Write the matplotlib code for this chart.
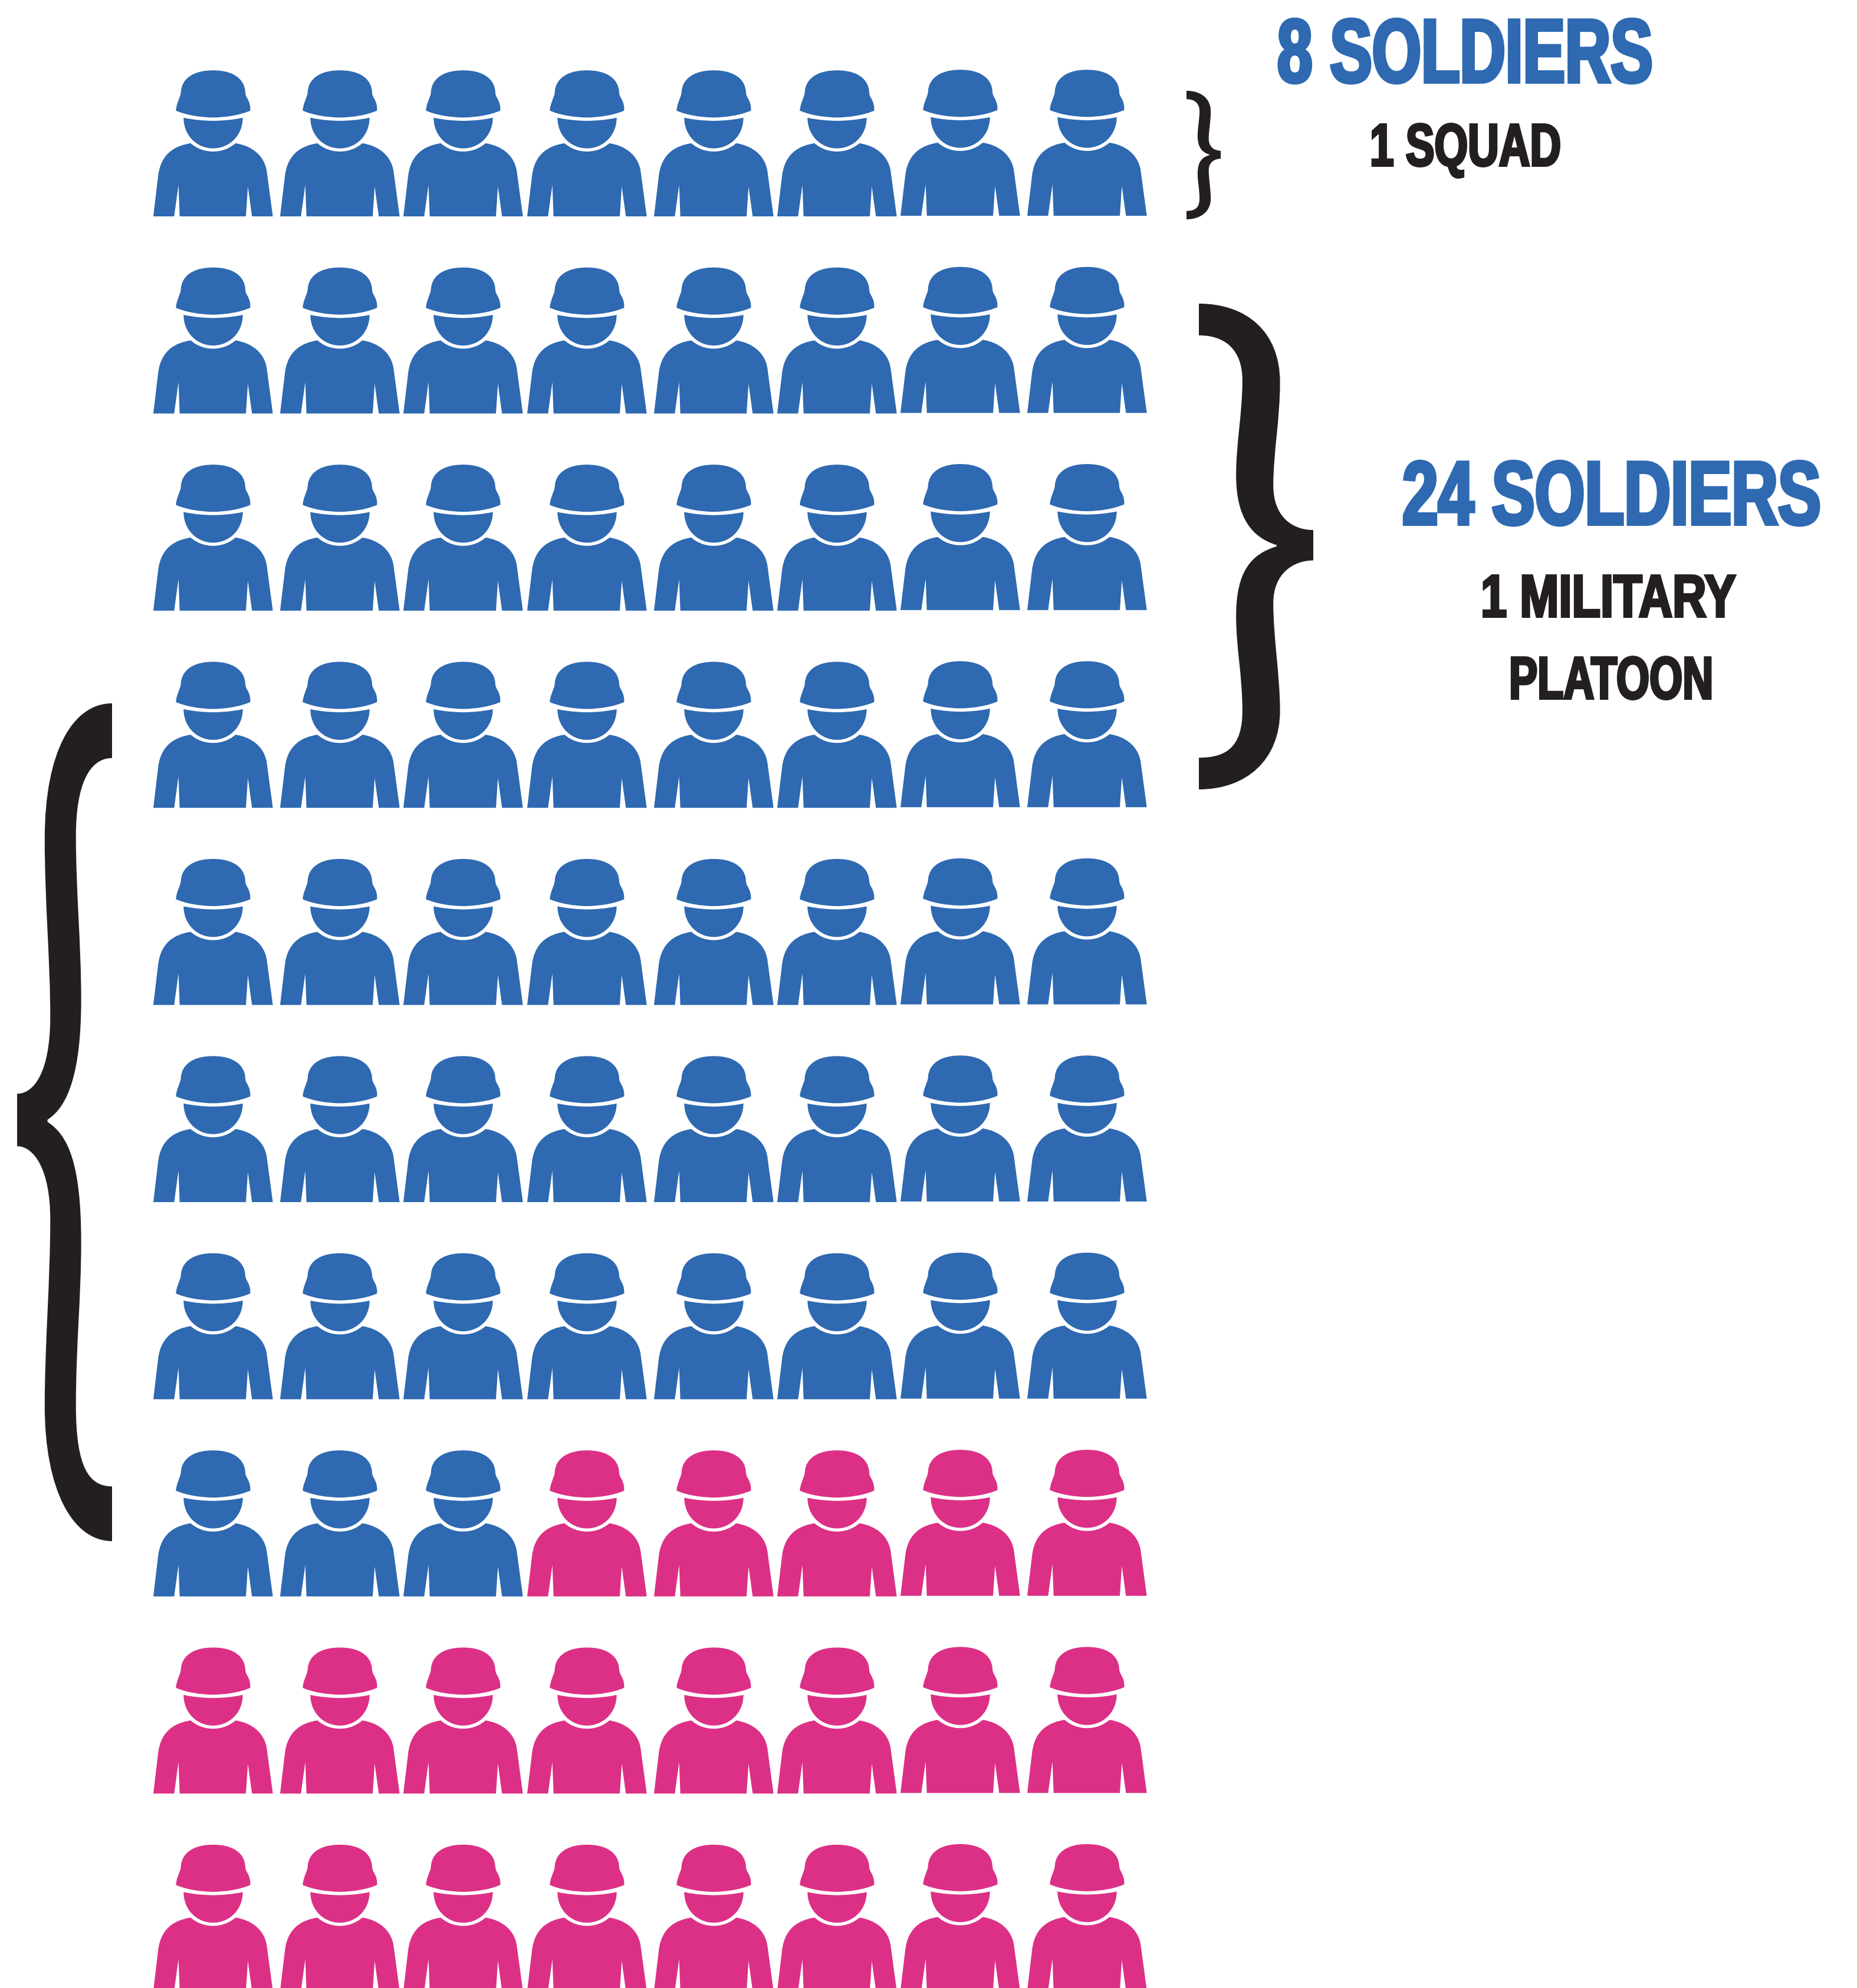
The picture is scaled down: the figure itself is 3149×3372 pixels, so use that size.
import numpy as np
import matplotlib
matplotlib.use('Agg')
import matplotlib.pyplot as plt
import matplotlib.patheffects as pe
from matplotlib.patches import PathPatch
from matplotlib.path import Path
from matplotlib.transforms import Affine2D

# chart values
soldiersPerRow = 8
rowCount = 10
groupCounts = [59, 21]
groupNames = ['blue', 'pink']
labelTexts = ['8 SOLDIERS', '1 SQUAD', '24 SOLDIERS', '1 MILITARY', 'PLATOON']
labelGroups = ['blue', 'black', 'blue', 'black', 'black']

# colours and layout, in reference pixels
colors = {'blue': '#2E69B1', 'pink': '#DC3086', 'black': '#231F20'}
W, H = 3149, 3372
columnLefts = [260, 475, 684, 894, 1109, 1318, 1527, 1742]
columnLift = [0, 0, 0, 0, 0, 0, 1, 1]
firstRowBottom = 367
rowPitch = 334.4
# left, right, baseline, cap height of each label
labelBoxes = [
	(2163, 2806, 142, 117),
	(2321, 2649, 283, 78),
	(2375, 3091, 892, 117),
	(2509, 2945, 1048, 78),
	(2557, 2907, 1187, 78),
]
# flat end x, tip x, top y, bottom y
braceBoxes = [
	(2012, 2070, 154, 372),
	(2033, 2227, 515, 1339),
	(190, 29, 1193, 2614),
]


def buildPath(start, segments):
	verts = [start]
	codes = [Path.MOVETO]
	for seg in segments:
		verts.extend(seg)
		codes.extend([Path.LINETO] if len(seg) == 1 else [Path.CURVE4] * 3)
	verts.append(start)
	codes.append(Path.CLOSEPOLY)
	return np.array(verts, dtype=float), codes


def soldierPath():
	# traced from a zoomed icon, 3x pixels, origin moved to the feet below
	helmet = buildPath((175, 262), [
		[(176, 235), (190, 205), (197, 185)],
		[(200, 175), (200, 170), (201, 160)],
		[(206, 110), (250, 57), (364, 57)],
		[(478, 57), (522, 110), (527, 160)],
		[(528, 170), (528, 178), (531, 185)],
		[(536, 200), (556, 220), (553, 262)],
		[(500, 285), (430, 296), (364, 297)],
		[(298, 296), (228, 285), (175, 262)],
	])
	face = buildPath((214, 298), [
		[(270, 310), (320, 313), (364, 314)],
		[(410, 313), (460, 310), (515, 298)],
		[(515, 390), (445, 454), (364, 454)],
		[(283, 454), (214, 390), (214, 298)],
	])
	body = buildPath((60, 800), [
		[(85, 590)],
		[(100, 480), (170, 440), (250, 428)],
		[(285, 458), (325, 470), (364, 470)],
		[(403, 470), (443, 458), (478, 428)],
		[(560, 440), (625, 490), (637, 570)],
		[(668, 800)], [(562, 800)], [(541, 648)], [(531, 800)],
		[(194, 800)], [(188, 640)], [(166, 800)],
	])
	verts = np.vstack([helmet[0], face[0], body[0]])
	codes = helmet[1] + face[1] + body[1]
	verts = (verts - [60, 800]) / 3.0
	return Path(verts, codes)


def bracePath():
	# a closing brace traced from a zoom, scaled to a unit box
	verts, codes = buildPath((160, 45), [
		[(400, 45), (572, 130), (572, 285)],
		[(572, 400), (538, 500), (538, 600)],
		[(538, 700), (640, 737), (741, 737)],
		[(741, 830)],
		[(640, 830), (538, 870), (538, 960)],
		[(538, 1070), (572, 1180), (572, 1290)],
		[(572, 1440), (400, 1530), (160, 1530)],
		[(160, 1433)],
		[(300, 1433), (381, 1400), (381, 1290)],
		[(381, 1180), (349, 1100), (349, 1000)],
		[(349, 860), (430, 810), (555, 787)],
		[(555, 783)],
		[(430, 760), (349, 700), (349, 570)],
		[(349, 470), (381, 380), (381, 280)],
		[(381, 190), (300, 142), (160, 142)],
	])
	verts = (verts - [160, 45]) / [581.0, 1485.0]
	return Path(verts, codes)


class SqueezedText(pe.AbstractPathEffect):
	# narrows a text around its right edge and thickens it again
	def __init__(self, anchorX, scaleX, weightPx):
		super().__init__()
		self.anchorX = anchorX
		self.scaleX = scaleX
		self.weightPx = weightPx

	def draw_path(self, renderer, gc, tpath, affine, rgbFace):
		squeeze = Affine2D().translate(-self.anchorX, 0).scale(self.scaleX, 1).translate(self.anchorX, 0)
		gc0 = renderer.new_gc()
		gc0.copy_properties(gc)
		gc0.set_foreground(rgbFace)
		gc0.set_linewidth(self.weightPx * 72.0 / 100)
		gc0.set_joinstyle('miter')
		renderer.draw_path(gc0, tpath, affine + squeeze, rgbFace)
		gc0.restore()


fig = plt.figure(figsize=(W / 100, H / 100), dpi=100)
ax = fig.add_axes([0, 0, 1, 1])
ax.set_xlim(0, W)
ax.set_ylim(H, 0)
ax.axis('off')

soldier = soldierPath()
rowColors = [name for name, count in zip(groupNames, groupCounts) for i in range(count)]
for idx, name in enumerate(rowColors):
	row, col = divmod(idx, soldiersPerRow)
	x = columnLefts[col]
	y = firstRowBottom + row * rowPitch - columnLift[col]
	ax.add_patch(PathPatch(
		soldier,
		facecolor=colors[name],
		edgecolor='none',
		transform=Affine2D().translate(x, y) + ax.transData
	))

brace = bracePath()
for xFlat, xTip, yTop, yBottom in braceBoxes:
	place = Affine2D().scale(xTip - xFlat, yBottom - yTop).translate(xFlat, yTop)
	ax.add_patch(PathPatch(
		brace,
		facecolor=colors['black'],
		edgecolor='none',
		transform=place + ax.transData
	))

fig.canvas.draw()
renderer = fig.canvas.get_renderer()
for text, group, box in zip(labelTexts, labelGroups, labelBoxes):
	left, right, baseline, cap = box
	weight = cap * 0.05
	sizePx = (cap - weight) / 0.729
	anchor = right - weight / 2
	t = ax.text(
		anchor, baseline - weight / 2, text,
		family=['Liberation Sans Narrow', 'Liberation Sans'],
		fontweight='bold',
		fontsize=sizePx * 72.0 / 100,
		color=colors[group],
		ha='right',
		va='baseline'
	)
	width = t.get_window_extent(renderer).width
	t.set_path_effects([SqueezedText(anchor, (right - left - weight) / width, weight)])

fig.savefig('out.png', dpi=100, facecolor='white')
